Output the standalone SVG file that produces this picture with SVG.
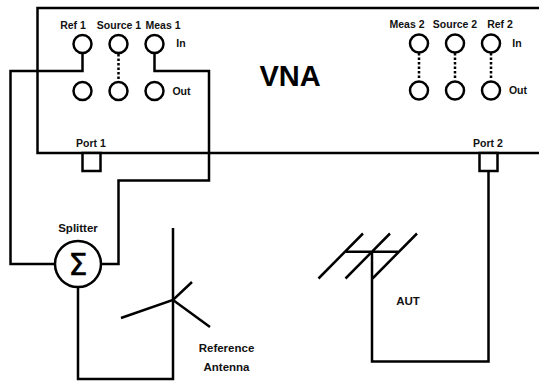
<svg xmlns="http://www.w3.org/2000/svg" width="539" height="381" viewBox="0 0 539 381">
<style>
.w{fill:none;stroke:#000;stroke-width:2.5}
.c{fill:#fff;stroke:#000;stroke-width:2.5}
.d{fill:none;stroke:#000;stroke-width:2.5;stroke-dasharray:2.5 2}
.t{font-family:"Liberation Sans",Arial,sans-serif;font-size:10.5px;font-weight:700;fill:#111;text-anchor:middle}
.l{font-size:11.5px}
</style>
<rect width="539" height="381" fill="#fff"/>
<g id="vna">
<path class="w" d="M539 8H37.5V153H539"/>
<text class="t" x="290" y="85.5" style="font-size:29px;fill:#000">VNA</text>
</g>
<g id="connectors">
<path class="w" d="M82.5 53V71H10.5V264H55"/>
<path class="w" d="M154.5 53V71H209V180.5H118.5V264H101"/>
<path class="w" d="M78 287V379H173V228"/>
<path class="w" d="M488.5 171V361.5H372V252"/>
<path class="d" d="M118.5 54V80"/>
<path class="d" d="M419 53V80"/>
<path class="d" d="M455 53V80"/>
<path class="d" d="M491 53V80"/>
</g>
<g id="ref1"><circle class="c" cx="82.5" cy="44" r="9"/><text class="t" x="73" y="29">Ref 1</text></g>
<g id="source1"><circle class="c" cx="118.5" cy="44" r="9"/><text class="t" x="119" y="29">Source 1</text></g>
<g id="meas1"><circle class="c" cx="154.5" cy="44" r="9"/><text class="t" x="163" y="29">Meas 1</text><text class="t" x="181" y="47">In</text></g>
<g id="out1a"><circle class="c" cx="82.5" cy="91" r="9"/></g>
<g id="out1b"><circle class="c" cx="118.5" cy="91" r="9"/></g>
<g id="out1c"><circle class="c" cx="154.5" cy="91" r="9"/><text class="t" x="181.5" y="94.5">Out</text></g>
<g id="meas2"><circle class="c" cx="419" cy="43.5" r="9"/><text class="t" x="407" y="28">Meas 2</text></g>
<g id="source2"><circle class="c" cx="455" cy="43.5" r="9"/><text class="t" x="455" y="28">Source 2</text></g>
<g id="ref2"><circle class="c" cx="491" cy="43.5" r="9"/><text class="t" x="500" y="28">Ref 2</text><text class="t" x="517" y="46.5">In</text></g>
<g id="out2a"><circle class="c" cx="419" cy="90.5" r="9"/></g>
<g id="out2b"><circle class="c" cx="455" cy="90.5" r="9"/></g>
<g id="out2c"><circle class="c" cx="491" cy="90.5" r="9"/><text class="t" x="518" y="93.5">Out</text></g>
<g id="port1"><rect class="c" x="82.5" y="153" width="18" height="18"/><text class="t" x="91" y="147">Port 1</text></g>
<g id="port2"><rect class="c" x="479.5" y="153" width="18" height="18"/><text class="t" x="488" y="147">Port 2</text></g>
<g id="splitter"><circle class="c" cx="78" cy="264" r="23"/><text class="t l" x="78" y="232">Splitter</text><text class="t" x="78" y="275" style="font-size:30px;font-weight:400;font-family:'DejaVu Sans',sans-serif;stroke:#000;stroke-width:.6;fill:#000">Σ</text></g>
<g id="reference-antenna"><path class="w" d="M121 318L173 300L192 282M173 300L210 327"/><text class="t l" x="226.500" y="352">Reference</text><text class="t l" x="226.500" y="371">Antenna</text></g>
<g id="aut"><path class="w" d="M318.500 278.500L363 233.500M345.500 278.500L390 233.500M372.500 278.500L417 233.500M346 251.700H398"/><text class="t l" x="408" y="305">AUT</text></g>
</svg>
